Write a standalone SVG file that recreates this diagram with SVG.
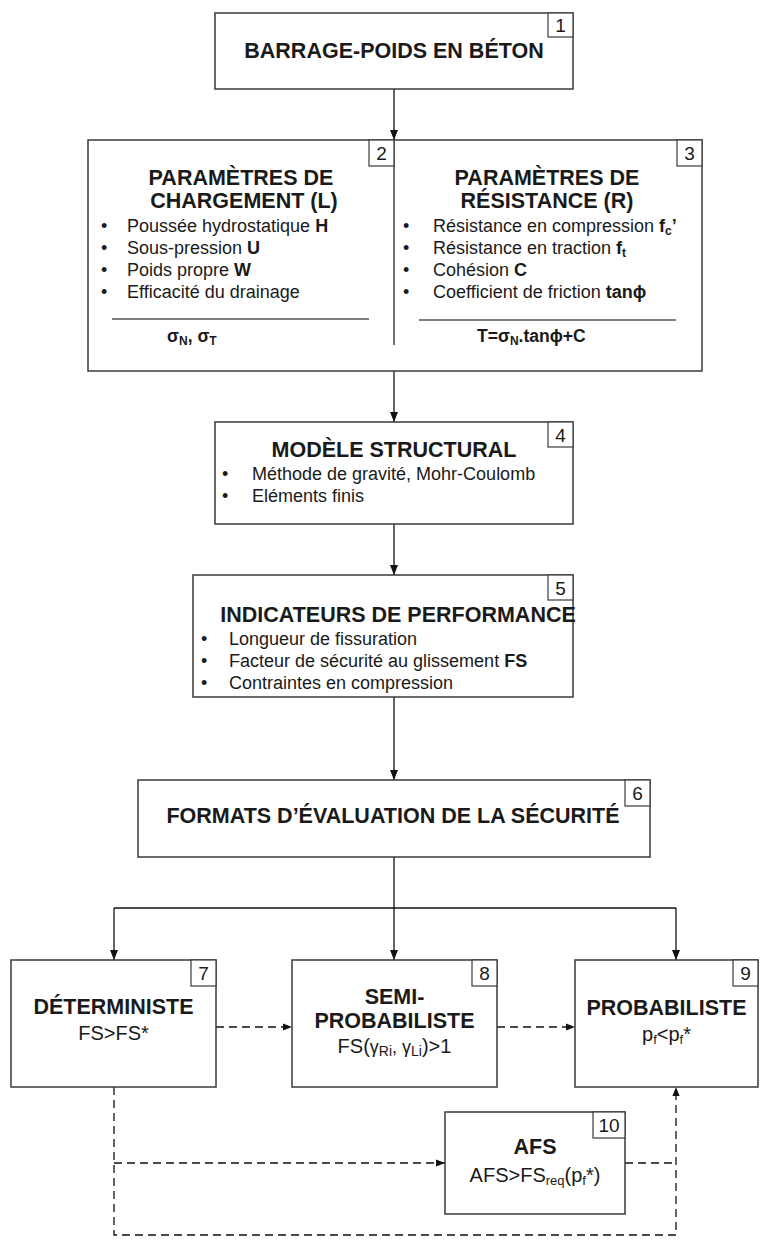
<svg xmlns="http://www.w3.org/2000/svg" width="770" height="1240" viewBox="0 0 770 1240">
<style>
.box{fill:#fff;stroke:#3a3a3a;stroke-width:1.5}
.num{fill:#fff;stroke:#3a3a3a;stroke-width:1.2}
text{font-family:"Liberation Sans",Arial,sans-serif;fill:#1a1a1a}
.title{font-size:21.5px;font-weight:bold;text-anchor:middle}
.body{font-size:18px}
.n{font-size:19px;text-anchor:middle}
.f{font-size:17.5px;font-weight:bold}
.sub{font-size:20px;text-anchor:middle}
.b{font-weight:bold}
.conn{fill:none;stroke:#111;stroke-width:1.3}
.dash{stroke-dasharray:8 5}
.rule{stroke:#555;stroke-width:1.5}
</style>
<defs>
<marker id="ah" viewBox="0 0 10 10" refX="10" refY="5" markerWidth="10" markerHeight="10" markerUnits="userSpaceOnUse" orient="auto"><path d="M0,1 L10,5 L0,9 z" fill="#111"/></marker>
<marker id="ahs" viewBox="0 0 10 10" refX="10" refY="5" markerWidth="9" markerHeight="9" markerUnits="userSpaceOnUse" orient="auto"><path d="M0,1 L10,5 L0,9 z" fill="#111"/></marker>
</defs>

<g id="connectors">
<path class="conn" d="M394,89 V140" marker-end="url(#ah)"/>
<path class="conn" d="M394,371 V422" marker-end="url(#ah)"/>
<path class="conn" d="M394,524 V575" marker-end="url(#ah)"/>
<path class="conn" d="M394,697 V780" marker-end="url(#ah)"/>
<path class="conn" d="M394,857 V960" marker-end="url(#ah)"/>
<path class="conn" d="M114,908 H676"/>
<path class="conn" d="M114,908 V960" marker-end="url(#ah)"/>
<path class="conn" d="M676,908 V960" marker-end="url(#ah)"/>
<path class="conn dash" d="M216,1027 H292" marker-end="url(#ahs)"/>
<path class="conn dash" d="M497,1027 H575" marker-end="url(#ahs)"/>
<path class="conn dash" d="M114,1087 V1235 H676 V1087" marker-end="url(#ahs)"/>
<path class="conn dash" d="M114,1163 H445" marker-end="url(#ahs)"/>
<path class="conn dash" d="M625,1163 H676"/>
</g>

<g id="node1">
<rect class="box" x="215" y="13" width="358" height="76"/>
<rect class="num" x="548" y="13" width="25" height="24"/>
<text class="n" x="560.5" y="32">1</text>
<text class="title" x="394" y="58">BARRAGE-POIDS EN BÉTON</text>
</g>

<g id="node2-3-frame">
<rect class="box" x="88" y="140" width="614" height="231"/>
<line x1="394" y1="140" x2="394" y2="345" stroke="#222" stroke-width="1.3"/>
</g>

<g id="node2">
<rect class="num" x="369" y="140" width="25" height="26"/>
<text class="n" x="381.5" y="160">2</text>
<text class="title" x="241" y="185">PARAMÈTRES DE</text>
<text class="title" x="244" y="208">CHARGEMENT (L)</text>
<g class="body">
<text x="101" y="232">•</text><text x="127" y="232">Poussée hydrostatique <tspan class="b">H</tspan></text>
<text x="101" y="254">•</text><text x="127" y="254">Sous-pression <tspan class="b">U</tspan></text>
<text x="101" y="276">•</text><text x="127" y="276">Poids propre <tspan class="b">W</tspan></text>
<text x="101" y="298">•</text><text x="127" y="298">Efficacité du drainage</text>
</g>
<line class="rule" x1="112" y1="319" x2="369" y2="319"/>
<text class="f" x="167" y="342">σ<tspan font-size="12" dy="3">N</tspan><tspan dy="-3">, σ</tspan><tspan font-size="12" dy="3">T</tspan></text>
</g>

<g id="node3">
<rect class="num" x="677" y="140" width="25" height="26"/>
<text class="n" x="689.5" y="160">3</text>
<text class="title" x="547" y="185">PARAMÈTRES DE</text>
<text class="title" x="547" y="208">RÉSISTANCE (R)</text>
<g class="body">
<text x="403" y="232">•</text><text x="433" y="232">Résistance en compression <tspan class="b">f</tspan><tspan class="b" font-size="12" dy="3">c</tspan><tspan class="b" dy="-3">’</tspan></text>
<text x="403" y="254">•</text><text x="433" y="254">Résistance en traction <tspan class="b">f</tspan><tspan class="b" font-size="12" dy="3">t</tspan></text>
<text x="403" y="276">•</text><text x="433" y="276">Cohésion <tspan class="b">C</tspan></text>
<text x="403" y="298">•</text><text x="433" y="298">Coefficient de friction <tspan class="b">tanϕ</tspan></text>
</g>
<line class="rule" x1="419" y1="320" x2="676" y2="320"/>
<text class="f" x="477" y="342">T=σ<tspan font-size="12" dy="3">N</tspan><tspan dy="-3">.tanϕ+C</tspan></text>
</g>

<g id="node4">
<rect class="box" x="215" y="422" width="358" height="102"/>
<rect class="num" x="548" y="422" width="25" height="25"/>
<text class="n" x="560.5" y="442">4</text>
<text class="title" x="394" y="457">MODÈLE STRUCTURAL</text>
<g class="body">
<text x="222" y="480">•</text><text x="252" y="480">Méthode de gravité, Mohr-Coulomb</text>
<text x="222" y="502">•</text><text x="252" y="502">Eléments finis</text>
</g>
</g>

<g id="node5">
<rect class="box" x="193" y="575" width="380" height="122"/>
<rect class="num" x="548" y="575" width="25" height="25"/>
<text class="n" x="560.5" y="595">5</text>
<text class="title" x="398" y="622">INDICATEURS DE PERFORMANCE</text>
<g class="body">
<text x="201" y="645">•</text><text x="229" y="645">Longueur de fissuration</text>
<text x="201" y="667">•</text><text x="229" y="667">Facteur de sécurité au glissement <tspan class="b">FS</tspan></text>
<text x="201" y="689">•</text><text x="229" y="689">Contraintes en compression</text>
</g>
</g>

<g id="node6">
<rect class="box" x="138" y="780" width="512" height="77"/>
<rect class="num" x="625" y="780" width="25" height="26"/>
<text class="n" x="637.5" y="800">6</text>
<text class="title" x="393" y="823">FORMATS D’ÉVALUATION DE LA SÉCURITÉ</text>
</g>

<g id="node7">
<rect class="box" x="11" y="960" width="205" height="127"/>
<rect class="num" x="191" y="960" width="25" height="26"/>
<text class="n" x="203.5" y="980">7</text>
<text class="title" x="113.5" y="1014">DÉTERMINISTE</text>
<text class="sub" x="113.5" y="1040">FS&gt;FS*</text>
</g>

<g id="node8">
<rect class="box" x="292" y="960" width="205" height="127"/>
<rect class="num" x="472" y="960" width="25" height="26"/>
<text class="n" x="484.5" y="980">8</text>
<text class="title" x="394.5" y="1004">SEMI-</text>
<text class="title" x="394.5" y="1028">PROBABILISTE</text>
<text class="sub" x="394.5" y="1053">FS(<tspan font-size="18">γ</tspan><tspan font-size="14" dy="3">Ri</tspan><tspan font-size="18" dy="-3">, γ</tspan><tspan font-size="14" dy="3">Li</tspan><tspan dy="-3">)&gt;1</tspan></text>
</g>

<g id="node9">
<rect class="box" x="575" y="960" width="183" height="127"/>
<rect class="num" x="733" y="960" width="25" height="26"/>
<text class="n" x="745.5" y="980">9</text>
<text class="title" x="666.5" y="1015">PROBABILISTE</text>
<text class="sub" x="666.5" y="1041">p<tspan font-size="13" dy="3">f</tspan><tspan dy="-3">&lt;p</tspan><tspan font-size="13" dy="3">f</tspan><tspan dy="-3">*</tspan></text>
</g>

<g id="node10">
<rect class="box" x="445" y="1112" width="180" height="102"/>
<rect class="num" x="593" y="1112" width="32" height="26"/>
<text class="n" x="609" y="1132">10</text>
<text class="title" x="535" y="1154">AFS</text>
<text class="sub" x="535" y="1182">AFS&gt;FS<tspan font-size="13" dy="3">req</tspan><tspan dy="-3">(p</tspan><tspan font-size="13" dy="3">f</tspan><tspan dy="-3">*)</tspan></text>
</g>
</svg>
